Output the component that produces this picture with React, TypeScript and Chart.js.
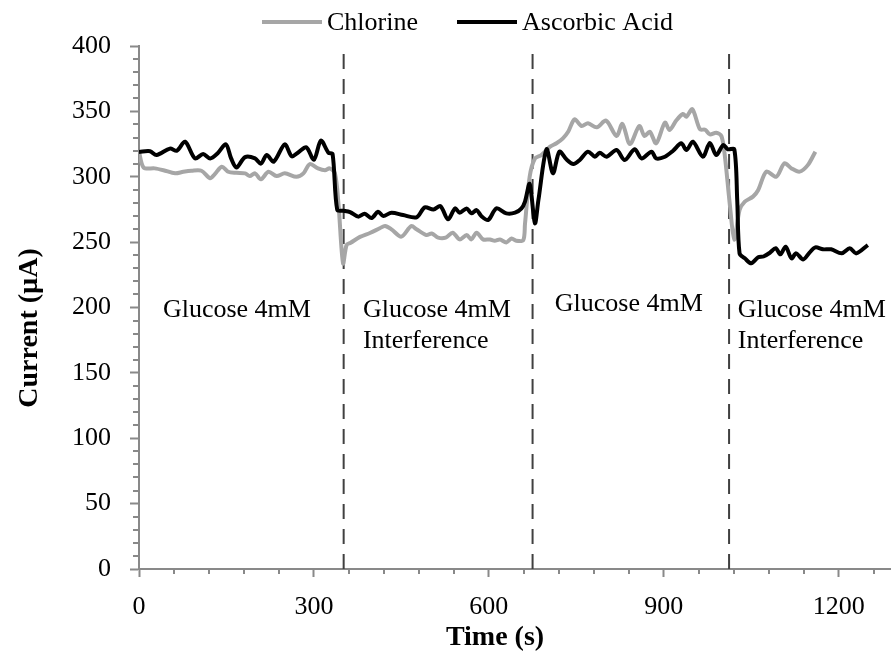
import React, { useEffect, useRef } from "react";
import { Chart, registerables } from "chart.js";

Chart.register(...registerables);

// ---------- data ----------
const chlorineTime = [
  0, 8, 27, 42, 62, 76, 90, 107, 122, 130, 142, 153, 167, 182, 190, 199, 209, 222, 236, 250,
  270, 282, 293, 307, 319, 327, 336, 342, 350, 356, 363, 379, 396, 413, 422, 433, 450, 467,
  476, 493, 502, 513, 526, 538, 550, 562, 570, 579, 590, 602, 610, 619, 630, 639, 647, 659,
  662, 670, 679, 690, 705, 716, 727, 736, 747, 759, 770, 785, 801, 819, 829, 842, 858, 867,
  876, 887, 902, 910, 922, 933, 939, 949, 962, 971, 979, 990, 999, 1005, 1013, 1021, 1030,
  1039, 1053, 1062, 1076, 1093, 1107, 1119, 1133, 1147, 1160,
];
const chlorineCurrent = [
  319, 307, 306.4, 305, 302.6, 303.8, 304.6, 304.6, 298.8, 302, 307.7, 303.8, 303, 302.6,
  300.5, 302.6, 298, 303.8, 300.5, 302.6, 300, 302.6, 309.7, 306.4, 305, 306.4, 302.6, 279.7,
  233.8, 247.8, 249.5, 254, 257, 260.6, 262.4, 259.8, 254.2, 262.3, 259.8, 255.4, 256.6,
  253.4, 253.4, 257.2, 252.1, 255.4, 252.1, 257.2, 252.1, 252, 251, 252, 249.8, 252.8, 251,
  251.5, 264, 300, 314, 316.6, 323, 325.6, 329.4, 334.4, 343.9, 338.8, 340.9, 337.8, 342.9,
  331.2, 340.4, 325, 338.8, 331.2, 334.4, 325.6, 341.4, 335.7, 343.4, 348, 346, 351.6, 336.3,
  336, 332.4, 333.7, 331, 315, 280, 252, 274.6, 281, 284.8, 289.9, 303.9, 300, 310.3, 306.4,
  303.9, 308.9, 319.2,
];

const ascorbicTime = [
  0, 19, 30, 53, 65, 79, 96, 110, 122, 135, 149, 158, 167, 182, 199, 209, 219, 231, 250, 262,
  273, 287, 300, 312, 325, 332, 340, 351, 362, 376, 387, 399, 410, 419, 433, 453, 476, 490,
  505, 517, 530, 542, 550, 562, 570, 579, 587, 599, 613, 630, 645, 656, 662, 670, 679, 685,
  699, 710, 721, 733, 745, 756, 770, 782, 790, 802, 819, 833, 850, 862, 879, 887, 902, 916,
  930, 939, 950, 967, 979, 990, 1002, 1010, 1021, 1026, 1030, 1039, 1050, 1062, 1071, 1082,
  1092, 1100, 1109, 1119, 1127, 1139, 1150, 1160, 1173, 1187, 1205, 1219, 1230, 1250,
];
const ascorbicCurrent = [
  319, 319.5, 316.6, 321.5, 320, 326.8, 314, 317.4, 314, 318, 324.8, 314, 307, 315, 314, 310,
  316.6, 311.5, 324.8, 315.6, 318.6, 322.5, 313, 327.6, 318.3, 317.4, 274.6, 274, 273, 269.5,
  271.7, 268.5, 273.3, 270, 272.5, 270.7, 269, 276.6, 275, 277.6, 267.4, 275.8, 272.5, 275.8,
  272, 274.5, 270, 267, 275.8, 272, 272.5, 275.8, 281, 294.5, 264.4, 282.2, 321, 302.6, 319.2,
  313.3, 309.7, 312.8, 319.2, 315.3, 318.3, 315.3, 320.4, 312.8, 321, 314, 319.2, 314, 315.3,
  319.9, 325.6, 320.4, 326.8, 315.3, 325.8, 316.6, 324.3, 321, 321, 282, 241.4, 237.6, 233.8,
  238.4, 239, 241.9, 245.3, 240.7, 246.5, 237.6, 241.4, 236.8, 242, 246, 244.5, 244.5, 241.4,
  245.3, 241.4, 247.8,
];

const markerTimes = [351, 675, 1012];
const xTickValues = [0, 300, 600, 900, 1200];
const xMinorStep = 60;
const yMinorStep = 10;
const seriesNames = ["Chlorine", "Ascorbic Acid"];
const annotationLabels = [
  ["Glucose 4mM"],
  ["Glucose 4mM", "Interference"],
  ["Glucose 4mM"],
  ["Glucose 4mM", "Interference"],
];
const annotationTimes = [41, 384, 713, 1027];
const annotationLevels = [193, 193, 197.5, 193];

const FONT = "'Liberation Serif', 'Times New Roman', serif";
const GRAY = "#a6a6a6";
const AXIS = "#898989";

const toPoints = (t: number[], v: number[]) => t.map((x, i) => ({ x, y: v[i] }));

const decorPlugin = {
  id: "decor",
  afterDraw(chart: any) {
    const ctx = chart.ctx as CanvasRenderingContext2D;
    const xs = chart.scales.x;
    const ys = chart.scales.y;
    const area = chart.chartArea;
    ctx.save();
    // minor ticks
    ctx.strokeStyle = AXIS;
    ctx.lineWidth = 2;
    ctx.beginPath();
    for (let t = 0; t <= xs.max; t += xMinorStep) {
      if (t % 300 === 0) continue;
      const px = Math.round(xs.getPixelForValue(t));
      ctx.moveTo(px, area.bottom);
      ctx.lineTo(px, area.bottom + 5);
    }
    for (let v = 0; v <= ys.max; v += yMinorStep) {
      if (v % 50 === 0) continue;
      const py = Math.round(ys.getPixelForValue(v));
      ctx.moveTo(area.left, py);
      ctx.lineTo(area.left - 6, py);
    }
    ctx.stroke();

    // legend
    ctx.font = `26px ${FONT}`;
    ctx.textBaseline = "alphabetic";
    ctx.textAlign = "left";
    const legendItems = [
      { name: seriesNames[0], color: GRAY, x: 262 },
      { name: seriesNames[1], color: "#000", x: 457 },
    ];
    legendItems.forEach((it) => {
      ctx.strokeStyle = it.color;
      ctx.lineWidth = 4;
      ctx.beginPath();
      ctx.moveTo(it.x, 22);
      ctx.lineTo(it.x + 60, 22);
      ctx.stroke();
      ctx.fillStyle = "#000";
      ctx.fillText(it.name, it.x + 65, 30);
    });

    // annotations
    ctx.font = `26px ${FONT}`;
    ctx.fillStyle = "#000";
    annotationLabels.forEach((lines, i) => {
      const px = xs.getPixelForValue(annotationTimes[i]);
      const py = ys.getPixelForValue(annotationLevels[i]);
      lines.forEach((ln, j) => ctx.fillText(ln, px, py + j * 31));
    });

    // axis titles
    ctx.font = `bold 28px ${FONT}`;
    ctx.textAlign = "center";
    ctx.textBaseline = "middle";
    ctx.fillText("Time (s)", 495, 638);
    ctx.save();
    ctx.translate(30, 328);
    ctx.rotate(-Math.PI / 2);
    ctx.fillText("Current (\u00b5A)", 0, 0);
    ctx.restore();
    ctx.restore();
  },
};

export default function App() {
  const ref = useRef<HTMLCanvasElement | null>(null);
  useEffect(() => {
    if (!ref.current) return;
    const dashed = markerTimes.map((t) => ({
      label: "marker",
      data: [
        { x: t, y: 0 },
        { x: t, y: 400 },
      ],
      borderColor: "#404040",
      borderWidth: 2,
      borderDash: [15, 10],
      pointRadius: 0,
      showLine: true,
      tension: 0,
      order: 3,
    }));
    const chart = new Chart(ref.current, {
      type: "scatter",
      data: {
        datasets: [
          {
            label: seriesNames[0],
            data: toPoints(chlorineTime, chlorineCurrent),
            borderColor: GRAY,
            backgroundColor: GRAY,
            borderWidth: 4,
            pointRadius: 0,
            showLine: true,
            tension: 0.3,
            order: 2,
          },
          {
            label: seriesNames[1],
            data: toPoints(ascorbicTime, ascorbicCurrent),
            borderColor: "#000",
            backgroundColor: "#000",
            borderWidth: 4,
            pointRadius: 0,
            showLine: true,
            tension: 0.3,
            order: 1,
          },
          ...dashed,
        ] as any,
      },
      options: {
        responsive: false,
        animation: false,
        layout: { padding: { top: 46, right: 1, left: 0, bottom: 0 } },
        plugins: { legend: { display: false }, tooltip: { enabled: false } },
        scales: {
          x: {
            type: "linear",
            min: 0,
            max: 1288,
            afterBuildTicks: (s: any) => {
              s.ticks = xTickValues.map((v) => ({ value: v }));
            },
            afterFit: (s: any) => {
              s.height = 86;
            },
            ticks: {
              font: { family: FONT, size: 26 },
              color: "#000",
              padding: 15,
              maxRotation: 0,
              callback: (v: any) => String(v),
            },
            grid: {
              drawOnChartArea: false,
              drawTicks: true,
              tickLength: 8,
              tickWidth: 2,
              tickColor: AXIS,
            },
            border: { color: AXIS, width: 2 },
          },
          y: {
            min: 0,
            max: 400,
            ticks: {
              stepSize: 50,
              font: { family: FONT, size: 26 },
              color: "#000",
              padding: 19,
              callback: (v: any) => String(v),
            },
            afterFit: (s: any) => {
              s.width = 139;
            },
            grid: {
              drawOnChartArea: false,
              drawTicks: true,
              tickLength: 9,
              tickWidth: 2,
              tickColor: AXIS,
            },
            border: { color: AXIS, width: 2 },
          },
        },
      } as any,
      plugins: [decorPlugin],
    });
    return () => chart.destroy();
  }, []);
  return (
    <div style={{ position: "absolute", left: 0, top: 0, width: 891, height: 655, background: "#fff" }}>
      <canvas ref={ref} width={891} height={655} style={{ display: "block", width: 891, height: 655 }} />
    </div>
  );
}
